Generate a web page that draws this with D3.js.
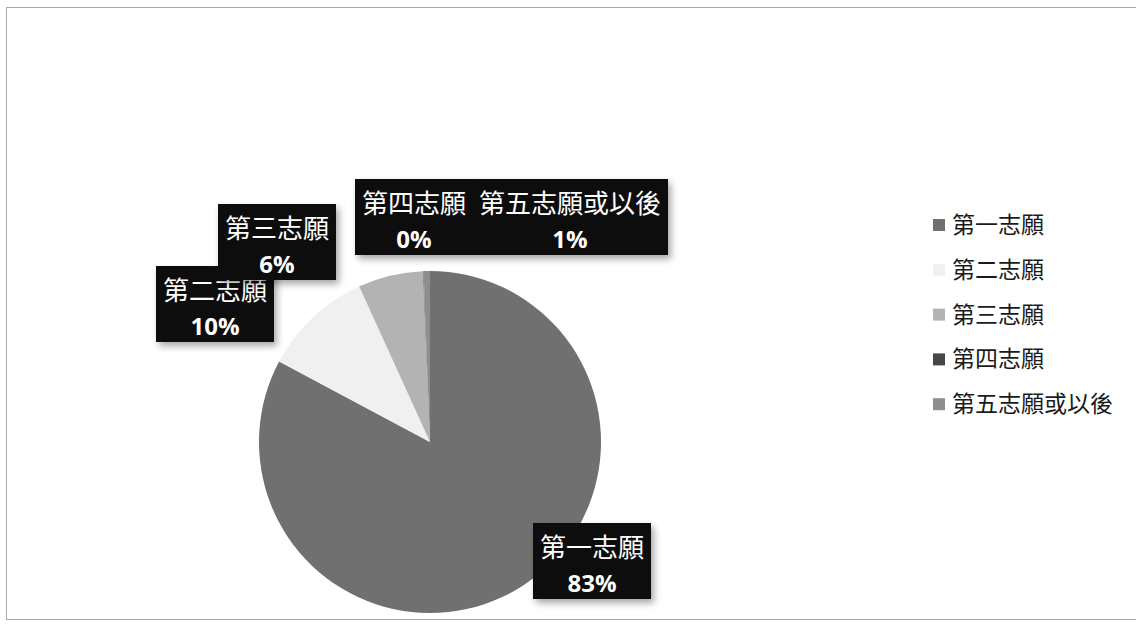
<!DOCTYPE html>
<html><head><meta charset="utf-8">
<script src="https://cdn.jsdelivr.net/npm/d3@7/dist/d3.min.js"></script>
<style>
html,body{margin:0;padding:0;background:#fff;}
svg{display:block;}
</style></head>
<body>
<svg id="chart" width="1136" height="626"></svg>
<script>
// ---- data ----
const categories = ["第一志願", "第二志願", "第三志願", "第四志願", "第五志願或以後"];
const values = [82.8, 10.4, 6.15, 0.05, 0.6];
const colors = ["#707070", "#f0f0f0", "#b3b3b3", "#474747", "#8e8e8e"];
// label box centres relative to pie centre (layout only)
const labelOffsets = [[162, 121], [-215, -136], [-153, -198], [-16, -223], [140, -223]];

const svg = d3.select("#chart");
const W = 1136, H = 626;
const cx = 430, cy = 442, R = 171;
const cjk = "'Noto Sans CJK TC','Noto Sans CJK SC',sans-serif";
const latin = "'Open Sans','Noto Sans',sans-serif";

const defs = svg.append("defs");
const f = defs.append("filter").attr("id", "sh").attr("x", "-20%").attr("y", "-20%").attr("width", "150%").attr("height", "150%");
f.append("feDropShadow").attr("dx", 3).attr("dy", 4).attr("stdDeviation", 3.5).attr("flood-color", "#000").attr("flood-opacity", 0.35);

// chart border
svg.append("rect").attr("x", 6.5).attr("y", 7.5).attr("width", W + 10).attr("height", 612)
  .attr("fill", "none").attr("stroke", "#aaa").attr("stroke-width", 1);

const total = d3.sum(values);
const data = categories.map((c, i) => ({ cat: c, value: values[i], color: colors[i], off: labelOffsets[i] }));
const pie = d3.pie().value(d => d.value).sort(null);
const arc = d3.arc().innerRadius(0).outerRadius(R);
const arcs = pie(data);

const g = svg.append("g").attr("transform", `translate(${cx},${cy})`);
g.selectAll("path.slice").data(arcs).enter().append("path")
  .attr("class", "slice").attr("d", arc)
  .attr("fill", d => d.data.color)
  .attr("stroke", "none");

// labels
const pct = d => d3.format(".0%")(d.value / total);
const lg = g.selectAll("g.lab").data(arcs).enter().append("g").attr("class", "lab")
  .attr("transform", d => `translate(${d.data.off[0]},${d.data.off[1]})`);
const rects = lg.append("rect").attr("fill", "#0a0a0a").attr("filter", "url(#sh)");
lg.each(function (d) {
  const s = d3.select(this);
  const t1 = s.append("text").attr("text-anchor", "middle").attr("y", -6)
    .attr("fill", "#fff").style("font-family", cjk).style("font-size", "26px").text(d.data.cat);
  const t2 = s.append("text").attr("text-anchor", "middle").attr("y", 29)
    .attr("fill", "#fff").style("font-family", latin).style("font-weight", "bold").style("font-size", "24px").text(pct(d));
  const w = Math.round(Math.max(t1.node().getComputedTextLength(), t2.node().getComputedTextLength()) + 13);
  const h = 76;
  s.select("rect").attr("x", -w / 2 - 0.5).attr("y", -h / 2 - 2).attr("width", w + 1).attr("height", h);
});

// legend
const legX = 933, legY0 = 225, legStep = 44.8;
const leg = svg.append("g").selectAll("g").data(data).enter().append("g")
  .attr("transform", (d, i) => `translate(${legX},${legY0 + i * legStep})`);
leg.append("rect").attr("x", 0).attr("y", -6).attr("width", 12).attr("height", 12).attr("fill", d => d.color);
leg.append("text").attr("x", 19).attr("y", 8).attr("fill", "#1a1a1a")
  .style("font-family", cjk).style("font-size", "23px").text(d => d.cat);
</script>
</body></html>
